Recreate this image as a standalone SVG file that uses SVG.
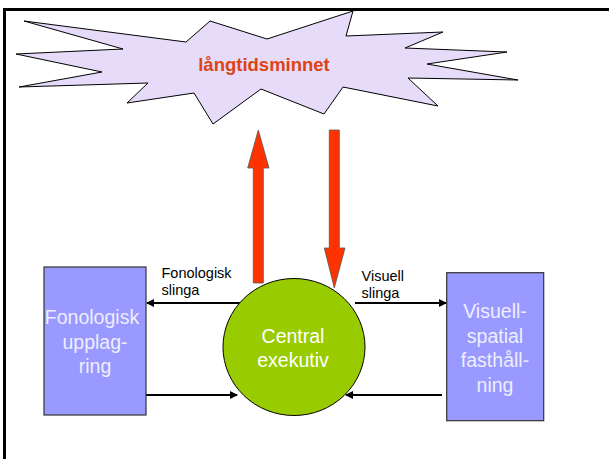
<svg xmlns="http://www.w3.org/2000/svg" width="609" height="459" viewBox="0 0 609 459">
<defs>
<style>
.lbl{font-family:"Liberation Sans",Arial,sans-serif;font-size:14.5px;fill:#000}
.box{fill:#9999ff;stroke:#333;stroke-width:1.2}
.boxt{font-family:"Liberation Sans",Arial,sans-serif;font-size:19.5px;fill:#eeeeff;text-anchor:middle}
.conn{stroke:#000;stroke-width:2.2;fill:none;marker-end:url(#ah)}
.red{fill:#ff3300;stroke:#555;stroke-width:0.8}
</style>
<marker id="ah" markerWidth="8" markerHeight="8" refX="7" refY="4" orient="auto" markerUnits="userSpaceOnUse">
<path d="M0,0 L8,4 L0,8 Z" fill="#000"/>
</marker>
</defs>
<rect x="0" y="0" width="609" height="459" fill="#fff"/>
<rect x="4.5" y="9.5" width="620" height="470" fill="none" stroke="#000" stroke-width="3"/>
<g id="langtidsminnet">
<polygon points="24,21 186,42 210,21 267,39 353,11 346,36 443,32 405,48 507,52 427,64 518,80 408,78 438,106 343,87 324,114 261,89 213,124 194,93 127,103 148,83 19,87 102,72 16,54 123,49" fill="#e6dcfa" stroke="#000" stroke-width="1"/>
<text x="264" y="71" text-anchor="middle" font-family="'Liberation Sans',Arial,sans-serif" font-size="18.5" font-weight="bold" fill="#dd4411">långtidsminnet</text>
</g>
<g id="connectors">
<polygon class="red" points="253.3,283 263.3,283 263.3,168 269,168 258.3,130 247.7,168 253.3,168"/>
<polygon class="red" points="329.3,130 339.3,130 339.3,248 345,248 334.3,288 324.3,248 329.3,248"/>
<line class="conn" x1="242" y1="303" x2="147" y2="303"/>
<line class="conn" x1="146" y1="395" x2="237" y2="395"/>
<line class="conn" x1="355" y1="303" x2="446" y2="303"/>
<line class="conn" x1="442" y1="395" x2="346" y2="395"/>
<text class="lbl" x="161.5" y="278">Fonologisk</text>
<text class="lbl" x="161.5" y="295">slinga</text>
<text class="lbl" x="361.5" y="281">Visuell</text>
<text class="lbl" x="361.5" y="298">slinga</text>
</g>
<g id="central">
<ellipse cx="294" cy="347" rx="71" ry="68.5" fill="#99cc00" stroke="#000" stroke-width="1"/>
<text x="293" y="343" text-anchor="middle" font-family="'Liberation Sans',Arial,sans-serif" font-size="19.5" fill="#fff">Central</text>
<text x="293" y="367" text-anchor="middle" font-family="'Liberation Sans',Arial,sans-serif" font-size="19.5" fill="#fff">exekutiv</text>
</g>
<g id="fonologisk">
<rect class="box" x="44" y="267" width="102" height="148"/>
<text class="boxt" x="92" y="324">Fonologisk</text>
<text class="boxt" x="95" y="349">upplag-</text>
<text class="boxt" x="95" y="373">ring</text>
</g>
<g id="visuell">
<rect class="box" x="446.7" y="272.7" width="97" height="148"/>
<text class="boxt" x="495" y="318">Visuell-</text>
<text class="boxt" x="495" y="343">spatial</text>
<text class="boxt" x="495" y="367">fasthåll-</text>
<text class="boxt" x="495" y="392">ning</text>
</g>
</svg>
